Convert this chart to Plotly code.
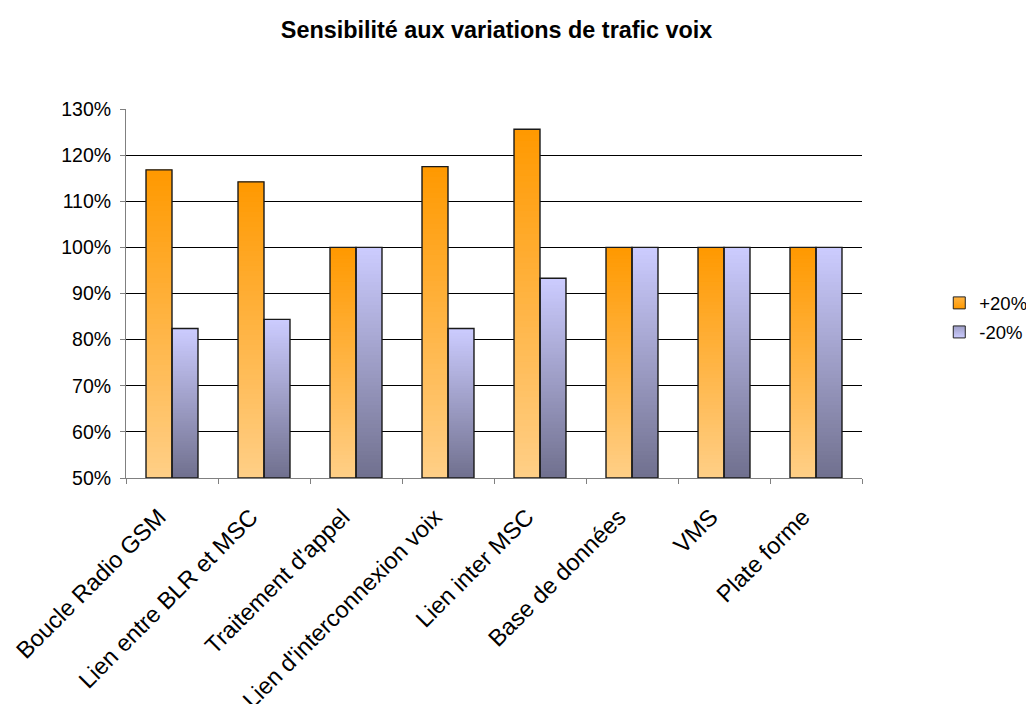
import plotly.graph_objects as go

# Chart data
categories = [
    "Boucle Radio GSM",
    "Lien entre BLR et MSC",
    "Traitement d'appel",
    "Lien d'interconnexion voix",
    "Lien inter MSC",
    "Base de données",
    "VMS",
    "Plate forme",
]
plus20 = [116.8, 114.2, 100, 117.5, 125.6, 100, 100, 100]
minus20 = [82.4, 84.4, 100, 82.4, 93.3, 100, 100, 100]
series_names = ["+20%", "-20%"]

AXIS_MIN = 50
AXIS_MAX = 130
N_STEPS = 60  # slices per bar used to render the vertical gradient
FONT = "Liberation Sans, Arial, sans-serif"


def mix(c1, c2, t):
    return "rgb(%d,%d,%d)" % tuple(round(a + (b - a) * t) for a, b in zip(c1, c2))


# (values, offset group, top colour, bottom colour)
styles = [
    (plus20, "plus", (255, 153, 0), (255, 207, 135)),
    (minus20, "minus", (204, 204, 255), (112, 112, 142)),
]

fig = go.Figure()

# Gradient fill: each slice runs from its start height up to the bar top, so
# later (higher) slices overlap the earlier ones and no seams show.
for vals, grp, top, bottom in styles:
    heights = [v - AXIS_MIN for v in vals]
    for i in range(N_STEPS):
        fig.add_bar(
            x=categories,
            y=[h * (N_STEPS - i) / N_STEPS for h in heights],
            base=[AXIS_MIN + h * i / N_STEPS for h in heights],
            offsetgroup=grp,
            marker=dict(color=mix(bottom, top, (i + 0.5) / N_STEPS), line_width=0),
            showlegend=False,
            hoverinfo="skip",
        )

# Black outlines on top of the gradient slices
for name, (vals, grp, top, bottom) in zip(series_names, styles):
    fig.add_bar(
        x=categories,
        y=[v - AXIS_MIN for v in vals],
        base=AXIS_MIN,
        offsetgroup=grp,
        name=name,
        marker=dict(color="rgba(0,0,0,0)", line=dict(color="#1a1a1a", width=1.4)),
        showlegend=False,
        hovertemplate="%{x}<br>" + name + ": %{customdata}%<extra></extra>",
        customdata=vals,
    )

# Legend entries
for name, (vals, grp, top, bottom) in zip(series_names, styles):
    fig.add_scatter(
        x=[None],
        y=[None],
        mode="markers",
        name=name,
        legendgroup=grp,
        marker=dict(
            symbol="square",
            size=12,
            color=mix(bottom, top, 0.5),
            gradient=dict(type="vertical", color=mix(bottom, top, 1.0)),
            line=dict(color="#222222", width=1),
        ),
    )

fig.update_layout(
    width=1026,
    height=704,
    margin=dict(l=126, r=164, t=109, b=226, autoexpand=False),
    paper_bgcolor="white",
    plot_bgcolor="white",
    barmode="group",
    bargap=0.435,
    bargroupgap=0,
    font=dict(family=FONT, size=19.5, color="black"),
    title=dict(
        text="<b>Sensibilité aux variations de trafic voix</b>",
        x=0.484,
        xanchor="center",
        y=1 - 30 / 704,
        yanchor="middle",
        font=dict(family=FONT, size=23.4, color="black"),
    ),
    legend=dict(
        x=1.105,
        xanchor="left",
        y=0.434,
        yanchor="middle",
        font=dict(family=FONT, size=18.5, color="black"),
        tracegroupgap=2,
        bgcolor="rgba(0,0,0,0)",
    ),
    xaxis=dict(
        type="category",
        categoryorder="array",
        categoryarray=categories,
        tickangle=-45,
        tickson="boundaries",
        ticks="outside",
        ticklen=5,
        tickcolor="#808080",
        showline=True,
        linecolor="#808080",
        linewidth=1,
        showgrid=False,
        automargin=False,
        ticklabelstandoff=15,
        ticklabelshift=-13,
        tickfont=dict(family=FONT, size=23.5, color="black"),
    ),
    yaxis=dict(
        range=[AXIS_MIN, AXIS_MAX],
        dtick=10,
        ticksuffix="%",
        ticks="outside",
        ticklen=5,
        tickcolor="#808080",
        showline=True,
        linecolor="#808080",
        linewidth=1,
        showgrid=True,
        gridcolor="black",
        gridwidth=1,
        zeroline=False,
        automargin=False,
        ticklabelstandoff=5,
        tickfont=dict(family=FONT, size=19.5, color="black"),
    ),
)

fig.write_html("out.html")
